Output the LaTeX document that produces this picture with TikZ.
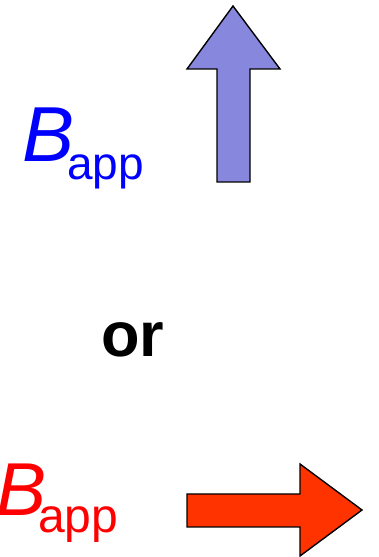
\documentclass[tikz,border=0pt]{standalone}
\usepackage{fontspec}
\setmainfont{Liberation Sans}
\definecolor{arrblue}{HTML}{8787DE}
\definecolor{arrred}{HTML}{FF3300}
\definecolor{txtblue}{HTML}{0000FF}
\definecolor{txtred}{HTML}{FF0000}
\begin{document}
\begin{tikzpicture}[x=1pt,y=1pt,
  arrowshape/.style={draw=black,line width=1.4pt,line join=miter},
  lbl/.style={inner sep=0pt,anchor=base west}]
\useasboundingbox (0,0) rectangle (378,557);
% up arrow
\draw[arrowshape,fill=arrblue] (217,557-182) -- (217,557-69) -- (187,557-69) -- (233,557-6) -- (280,557-69) -- (250,557-69) -- (250,557-182) -- cycle;
% right arrow
\draw[arrowshape,fill=arrred] (187,557-494) -- (300,557-494) -- (300,557-464) -- (362,557-510) -- (300,557-556) -- (300,557-527) -- (187,557-527) -- cycle;
\node[lbl,text=txtblue,font=\fontsize{78}{78}\selectfont\itshape] (b1) at (22,557-162) {B};
\node[lbl,text=txtblue,font=\fontsize{46}{46}\selectfont] (s1) at (67,557-180) {app};
\node[lbl,font=\fontsize{63}{63}\selectfont\bfseries] (or) at (101,557-357) {or};
\node[lbl,text=txtred,font=\fontsize{75}{75}\selectfont\itshape] (b2) at (-4,557-516) {B};
\node[lbl,text=txtred,font=\fontsize{48}{48}\selectfont] (s2) at (38,557-533) {app};
\end{tikzpicture}
\end{document}
